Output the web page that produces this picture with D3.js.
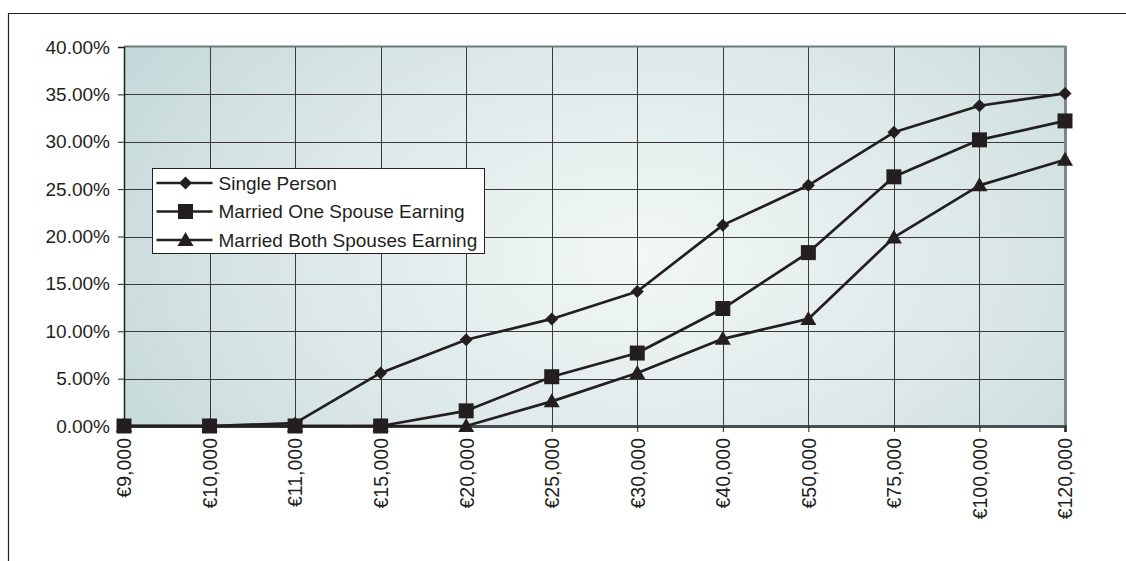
<!DOCTYPE html>
<html>
<head>
<meta charset="utf-8">
<script src="https://cdn.jsdelivr.net/npm/d3@7"></script>
<style>
  html, body { margin: 0; padding: 0; background: #fff; }
  svg { display: block; }
  text { font-family: "Liberation Sans", Arial, sans-serif; fill: #231f20; }
</style>
</head>
<body>
<div id="chart"></div>
<script>
// Income levels on the category axis
const incomes = ["€9,000", "€10,000", "€11,000", "€15,000", "€20,000", "€25,000",
                 "€30,000", "€40,000", "€50,000", "€75,000", "€100,000", "€120,000"];

// Average tax rate for each household type (fractions)
const singlePerson = [0, 0, 0.003, 0.056, 0.091, 0.113, 0.142, 0.212, 0.254, 0.310, 0.338, 0.351];
const marriedOneEarning = [0, 0, 0, 0, 0.016, 0.052, 0.077, 0.124, 0.183, 0.263, 0.302, 0.322];
const marriedBothEarning = [0, 0, 0, 0, 0, 0.026, 0.056, 0.092, 0.113, 0.199, 0.254, 0.281];

const seriesNames = ["Single Person", "Married One Spouse Earning", "Married Both Spouses Earning"];
const yTicks = [0, 0.05, 0.10, 0.15, 0.20, 0.25, 0.30, 0.35, 0.40];

const series = [
  { name: seriesNames[0], values: singlePerson, symbol: "diamond" },
  { name: seriesNames[1], values: marriedOneEarning, symbol: "square" },
  { name: seriesNames[2], values: marriedBothEarning, symbol: "triangle" }
];

const W = 1126, H = 561;
const plot = { left: 124, right: 1065, top: 47, bottom: 426 };
const ink = "#231f20";
const font = "'Liberation Sans', Arial, sans-serif";

const svg = d3.select("#chart").append("svg").attr("width", W).attr("height", H);

// Chart frame (top and left edges)
svg.append("path")
  .attr("d", `M8.5,${H} L8.5,13.5 L${W},13.5`)
  .attr("fill", "none").attr("stroke", "#231f20").attr("stroke-width", 1.2);

const x = d3.scalePoint().domain(incomes).range([plot.left, plot.right]);
const y = d3.scaleLinear().domain([0, 0.4]).range([plot.bottom, plot.top]);

// Plot area background
const defs = svg.append("defs");
const grad = defs.append("radialGradient").attr("id", "plotBg")
  .attr("cx", "0.55").attr("cy", "0.55").attr("r", "0.72")
  .attr("gradientTransform", "translate(0.55,0.55) scale(1,1.6) translate(-0.55,-0.55)");
grad.append("stop").attr("offset", "0%").attr("stop-color", "#f2f7f7");
grad.append("stop").attr("offset", "55%").attr("stop-color", "#dae6e6");
grad.append("stop").attr("offset", "100%").attr("stop-color", "#bed3d4");

svg.append("rect")
  .attr("x", plot.left).attr("y", plot.top)
  .attr("width", plot.right - plot.left).attr("height", plot.bottom - plot.top)
  .attr("fill", "url(#plotBg)");

// Gridlines
const grid = svg.append("g");
grid.selectAll("line.h").data(yTicks.slice(1, -1)).join("line")
  .attr("x1", plot.left).attr("x2", plot.right)
  .attr("y1", d => Math.round(y(d)) + 0.5).attr("y2", d => Math.round(y(d)) + 0.5)
  .attr("stroke", "#3a3a3a").attr("stroke-width", 1);
grid.selectAll("line.v").data(incomes.slice(1, -1)).join("line")
  .attr("y1", plot.top).attr("y2", plot.bottom)
  .attr("x1", d => Math.round(x(d)) + 0.5).attr("x2", d => Math.round(x(d)) + 0.5)
  .attr("stroke", "#3a3a3a").attr("stroke-width", 1);

// Plot area border
svg.append("line").attr("x1", plot.left).attr("x2", plot.right + 1)
  .attr("y1", plot.top - 0.5).attr("y2", plot.top - 0.5)
  .attr("stroke", "#6f7980").attr("stroke-width", 2);
svg.append("line").attr("x1", plot.right + 0.5).attr("x2", plot.right + 0.5)
  .attr("y1", plot.top - 1).attr("y2", plot.bottom)
  .attr("stroke", "#7d878d").attr("stroke-width", 3);

// Y axis
const yAxis = d3.axisLeft(y).tickValues(yTicks).tickSize(6).tickPadding(8)
  .tickFormat(d => (d * 100).toFixed(2) + "%");
const gy = svg.append("g").attr("transform", `translate(${plot.left},0)`).call(yAxis);
gy.select(".domain").attr("stroke", ink).attr("stroke-width", 1.5);
gy.selectAll(".tick line").attr("stroke", ink);
gy.selectAll(".tick text").attr("font-size", 19).attr("fill", ink)
  .attr("font-family", font);

// X axis
const xAxis = d3.axisBottom(x).tickSize(6).tickPadding(0);
const gx = svg.append("g").attr("transform", `translate(0,${plot.bottom})`).call(xAxis);
gx.select(".domain").attr("stroke", "#4a4f53").attr("stroke-width", 3);
gx.selectAll(".tick line").attr("stroke", ink);
gx.selectAll(".tick text")
  .attr("font-size", 19.5).attr("fill", ink)
  .attr("font-family", font)
  .attr("transform", "translate(0,12) rotate(-90)")
  .attr("text-anchor", "end")
  .attr("dy", "0.35em")
  .attr("y", 0).attr("x", 0);

// Marker shapes
const markerPaths = {
  diamond: "M0,-6.5L6.5,0L0,6.5L-6.5,0Z",
  square: "M-7.5,-7.5H7.5V7.5H-7.5Z",
  triangle: "M0,-8L8,6H-8Z"
};

const line = d3.line().x((d, i) => x(incomes[i])).y(d => y(d));

const gs = svg.append("g").selectAll("g").data(series).join("g");
gs.append("path")
  .attr("d", d => line(d.values))
  .attr("fill", "none").attr("stroke", ink).attr("stroke-width", 2.7)
  .attr("stroke-linejoin", "round");
gs.each(function (s) {
  d3.select(this).selectAll("path.m").data(s.values).join("path")
    .attr("class", "m")
    .attr("d", markerPaths[s.symbol])
    .attr("transform", (d, i) => `translate(${x(incomes[i])},${y(d)})`)
    .attr("fill", ink);
});

// Legend
const lg = svg.append("g").attr("transform", "translate(152.5,168.5)");
lg.append("rect").attr("width", 332).attr("height", 85)
  .attr("fill", "#fff").attr("stroke", "#231f20").attr("stroke-width", 1);
const items = lg.selectAll("g").data(series).join("g")
  .attr("transform", (d, i) => `translate(0,${14.5 + i * 28.5})`);
items.append("line").attr("x1", 4).attr("x2", 60).attr("y1", 0).attr("y2", 0)
  .attr("stroke", ink).attr("stroke-width", 2.7);
items.append("path")
  .attr("d", d => markerPaths[d.symbol])
  .attr("transform", "translate(33,0)")
  .attr("fill", ink);
items.append("text").attr("x", 66).attr("y", 0).attr("dy", "0.35em")
  .attr("font-size", 19).attr("font-family", font).text(d => d.name);
</script>
</body>
</html>
